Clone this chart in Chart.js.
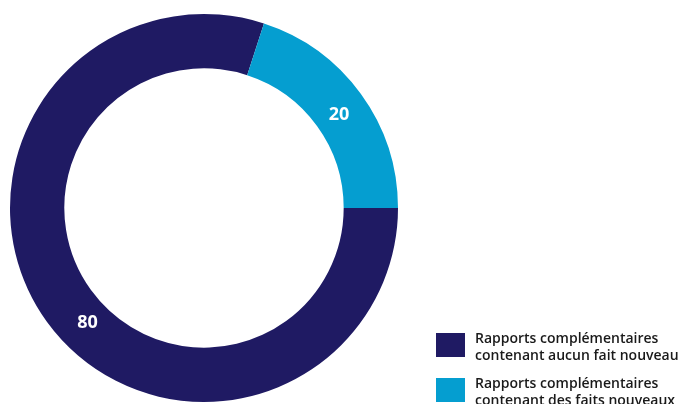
<!DOCTYPE html>
<html>
<head>
<meta charset="utf-8">
<script src="https://cdn.jsdelivr.net/npm/chart.js@4/dist/chart.umd.min.js"></script>
<style>
  html, body { margin: 0; padding: 0; background: #ffffff; }
  #wrap { position: relative; width: 684px; height: 404px; }
</style>
</head>
<body>
<div id="wrap"><canvas id="c" width="684" height="404"></canvas></div>
<script>
// Rapports complémentaires, répartition en pourcentage
const categories = [
  ['Rapports complémentaires', 'contenant aucun fait nouveau'],
  ['Rapports complémentaires', 'contenant des faits nouveaux']
];
const values = [80, 20];
const colors = ['#1f1a63', '#059ed0'];
// position of each value label along its arc (0 = start, 1 = end)
const labelAlong = [0.47, 0.52];

const valueLabels = {
  id: 'valueLabels',
  afterDatasetsDraw(chart) {
    const ctx = chart.ctx;
    const meta = chart.getDatasetMeta(0);
    ctx.save();
    ctx.fillStyle = '#ffffff';
    ctx.font = 'bold 18px "Open Sans", sans-serif';
    ctx.textAlign = 'center';
    ctx.textBaseline = 'middle';
    meta.data.forEach((arc, i) => {
      const p = arc.getProps(['x', 'y', 'startAngle', 'endAngle', 'innerRadius', 'outerRadius'], true);
      const a = p.startAngle + (p.endAngle - p.startAngle) * labelAlong[i];
      const r = (p.innerRadius + p.outerRadius) / 2 - 3;
      ctx.fillText(String(values[i]), p.x + Math.cos(a) * r, p.y + Math.sin(a) * r);
    });
    ctx.restore();
  }
};

const sideLegend = {
  id: 'sideLegend',
  afterDraw(chart) {
    const ctx = chart.ctx;
    ctx.save();
    ctx.font = '600 14px "Open Sans", sans-serif';
    ctx.textBaseline = 'alphabetic';
    ctx.textAlign = 'left';
    const x0 = 436, boxW = 29, boxH = 24;
    const tops = [333, 378];
    categories.forEach((lines, i) => {
      ctx.fillStyle = colors[i];
      ctx.fillRect(x0, tops[i], boxW, boxH);
      ctx.fillStyle = '#1a1a1a';
      lines.forEach((t, j) => {
        ctx.fillText(t, 475, tops[i] + 10 + j * 17);
      });
    });
    ctx.restore();
  }
};

new Chart(document.getElementById('c'), {
  type: 'doughnut',
  data: {
    labels: categories.map(l => l.join(' ')),
    datasets: [{
      data: values,
      backgroundColor: colors,
      borderWidth: 0,
      hoverOffset: 0
    }]
  },
  options: {
    responsive: false,
    animation: false,
    rotation: 90,
    cutout: '72%',
    layout: { padding: { left: 10, right: 286, top: 14, bottom: 2 } },
    plugins: {
      legend: { display: false },
      tooltip: { enabled: false }
    }
  },
  plugins: [valueLabels, sideLegend]
});
</script>
</body>
</html>
